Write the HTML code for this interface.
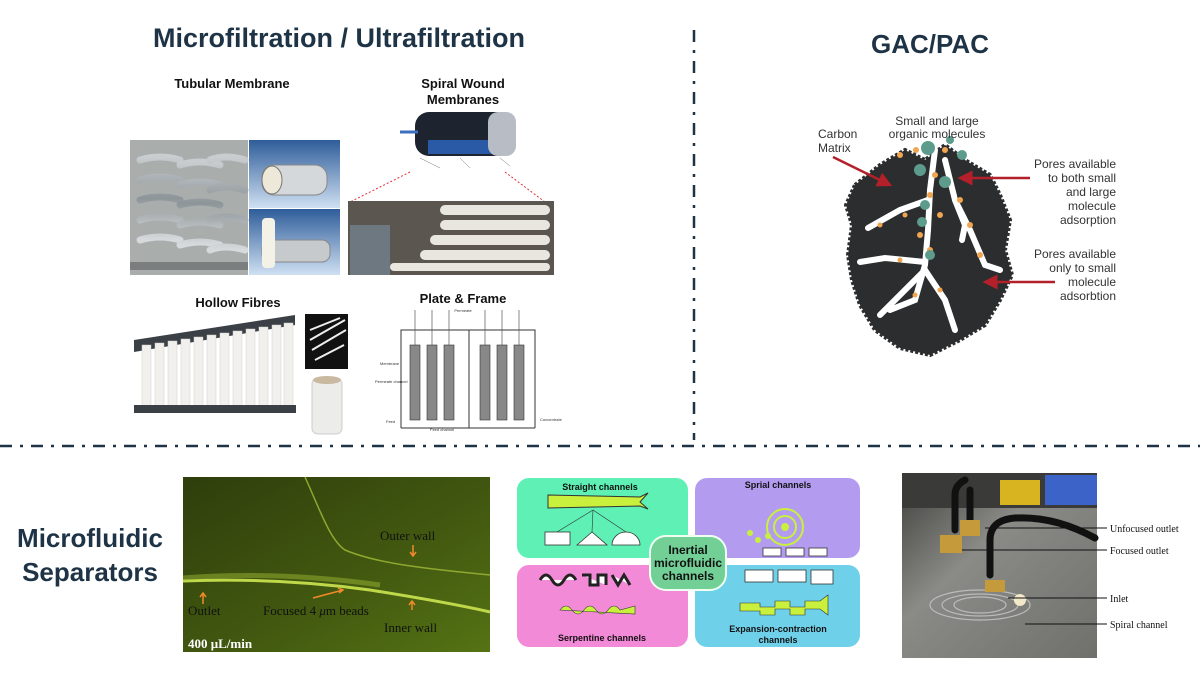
<!DOCTYPE html>
<html><head><meta charset="utf-8"><style>
html,body{margin:0;padding:0;background:#fff;width:1200px;height:675px;overflow:hidden}
svg{display:block}
</style></head><body>
<svg width="1200" height="675" viewBox="0 0 1200 675" xmlns="http://www.w3.org/2000/svg" font-family="Liberation Sans, sans-serif">
<defs>
<linearGradient id="pipe" x1="0" x2="0" y1="0" y2="1"><stop offset="0" stop-color="#c9cdd0"/><stop offset=".5" stop-color="#8e9599"/><stop offset="1" stop-color="#d7dadc"/></linearGradient>
<linearGradient id="blue" x1="0" x2="0" y1="0" y2="1"><stop offset="0" stop-color="#2f5d9a"/><stop offset="1" stop-color="#cfe0f2"/></linearGradient>
<linearGradient id="grn" x1="0" x2="1" y1="0" y2="1"><stop offset="0" stop-color="#2f3e0c"/><stop offset=".6" stop-color="#435a10"/><stop offset="1" stop-color="#557314"/></linearGradient>
<linearGradient id="steel" x1="0" x2="1" y1="0" y2="1"><stop offset="0" stop-color="#3e3f3c"/><stop offset=".4" stop-color="#8a8a86"/><stop offset="1" stop-color="#6f706c"/></linearGradient>
<marker id="ra" markerWidth="6" markerHeight="6" refX="5" refY="3" orient="auto"><path d="M0,0 L6,3 L0,6 z" fill="#b4202a"/></marker>
</defs>

<text x="339" y="47" text-anchor="middle" font-size="27" font-weight="bold" fill="#1e3446">Microfiltration / Ultrafiltration</text>
<text x="930" y="53" text-anchor="middle" font-size="26" font-weight="bold" fill="#1e3446">GAC/PAC</text>

<line x1="694" y1="30" x2="694" y2="440" stroke="#1e3446" stroke-width="2.5" stroke-dasharray="12,8,3,8"/>
<line x1="0" y1="446" x2="1200" y2="446" stroke="#1e3446" stroke-width="2.5" stroke-dasharray="12,8,3,8"/>

<!-- Tubular -->
<text x="232" y="88" text-anchor="middle" font-size="13" font-weight="bold" fill="#111">Tubular Membrane</text>
<rect x="130" y="140" width="118" height="135" fill="#a9adac"/>
<g stroke="url(#pipe)" stroke-width="7" fill="none" stroke-linecap="round">
<path d="M140,160 q20,-6 40,0 M140,180 q20,-6 40,0 M140,200 q20,-6 40,0 M140,220 q20,-6 40,0 M140,240 q20,-6 40,0"/>
<path d="M180,165 q20,-6 40,0 M180,185 q20,-6 40,0 M180,205 q20,-6 40,0 M180,225 q20,-6 40,0 M180,245 q20,-6 40,0"/>
<path d="M210,160 q15,-6 35,0 M210,190 q15,-6 35,0 M210,220 q15,-6 35,0 M210,250 q15,-6 35,0"/>
</g>
<rect x="130" y="262" width="118" height="8" fill="#7a7e7e"/>
<rect x="249" y="140" width="91" height="68" fill="url(#blue)"/>
<rect x="262" y="165" width="65" height="30" rx="12" fill="#d5d8da" stroke="#888"/>
<ellipse cx="272" cy="180" rx="10" ry="14" fill="#eee8d8" stroke="#777"/>
<rect x="249" y="209" width="91" height="66" fill="url(#blue)"/>
<rect x="262" y="240" width="68" height="22" rx="8" fill="#c7cacc" stroke="#888"/>
<rect x="262" y="218" width="13" height="50" rx="4" fill="#f4f1e6"/>

<!-- Spiral wound -->
<text x="463" y="88" text-anchor="middle" font-size="13" font-weight="bold" fill="#111">Spiral Wound</text>
<text x="463" y="104" text-anchor="middle" font-size="13" font-weight="bold" fill="#111">Membranes</text>
<rect x="415" y="112" width="100" height="44" fill="#1d2430" rx="14"/>
<rect x="428" y="140" width="70" height="14" fill="#2a5aa6"/>
<rect x="488" y="112" width="28" height="44" rx="10" fill="#b8bcc4"/>
<line x1="400" y1="132" x2="418" y2="132" stroke="#3b6ec0" stroke-width="3"/>
<g stroke="#777" stroke-width=".5"><line x1="420" y1="158" x2="440" y2="168"/><line x1="460" y1="158" x2="470" y2="168"/><line x1="500" y1="158" x2="510" y2="166"/></g>
<line x1="410" y1="172" x2="350" y2="202" stroke="#e03030" stroke-dasharray="2,2"/>
<line x1="505" y1="172" x2="545" y2="202" stroke="#e03030" stroke-dasharray="2,2"/>
<rect x="348" y="201" width="206" height="74" fill="#5b5650"/>
<g fill="#e8e6df">
<rect x="440" y="205" width="110" height="10" rx="5"/><rect x="440" y="220" width="110" height="10" rx="5"/><rect x="430" y="235" width="120" height="10" rx="5"/><rect x="420" y="250" width="130" height="10" rx="5"/><rect x="390" y="263" width="160" height="8" rx="4"/>
</g>
<rect x="350" y="225" width="40" height="50" fill="#6d7880"/>

<!-- Hollow fibres -->
<text x="238" y="307" text-anchor="middle" font-size="13" font-weight="bold" fill="#111">Hollow Fibres</text>
<path d="M134,340 L295,315 L295,325 L134,352 z" fill="#3b4047"/>
<g fill="#f1f0ec" stroke="#d0d0cc" stroke-width=".5">
<rect x="142" y="345" width="9" height="62"/><rect x="155" y="343" width="9" height="64"/><rect x="168" y="341" width="9" height="66"/><rect x="181" y="339" width="9" height="68"/><rect x="194" y="337" width="9" height="70"/><rect x="207" y="335" width="9" height="72"/><rect x="220" y="333" width="9" height="74"/><rect x="233" y="331" width="9" height="76"/><rect x="246" y="329" width="9" height="78"/><rect x="259" y="327" width="9" height="80"/><rect x="272" y="325" width="9" height="82"/><rect x="284" y="323" width="9" height="84"/>
</g>
<rect x="134" y="405" width="162" height="8" fill="#3b4047"/>
<rect x="305" y="314" width="43" height="55" fill="#111"/>
<path d="M310,340 L345,320 M312,350 L346,330 M315,360 L344,345 M310,330 L340,318" stroke="#eee" stroke-width="2"/>
<rect x="312" y="378" width="30" height="56" rx="6" fill="#ececea" stroke="#ccc"/>
<ellipse cx="327" cy="380" rx="14" ry="4" fill="#c9b9a0"/>

<!-- Plate & Frame -->
<text x="463" y="303" text-anchor="middle" font-size="13" font-weight="bold" fill="#111">Plate &amp; Frame</text>
<g stroke="#333" stroke-width="1" fill="none">
<path d="M401,428 V330 H535 V428"/><path d="M401,428 H535"/><path d="M469,330 V428"/>
</g>
<g fill="#888" stroke="#333" stroke-width=".6">
<rect x="410" y="345" width="10" height="75"/><rect x="427" y="345" width="10" height="75"/><rect x="444" y="345" width="10" height="75"/>
<rect x="480" y="345" width="10" height="75"/><rect x="497" y="345" width="10" height="75"/><rect x="514" y="345" width="10" height="75"/>
</g>
<g stroke="#555" stroke-width=".7">
<line x1="415" y1="310" x2="415" y2="345"/><line x1="432" y1="310" x2="432" y2="345"/><line x1="449" y1="310" x2="449" y2="345"/>
<line x1="485" y1="310" x2="485" y2="345"/><line x1="502" y1="310" x2="502" y2="345"/><line x1="519" y1="310" x2="519" y2="345"/>
</g>
<text x="463" y="312" font-size="4" text-anchor="middle" fill="#333">Permeate</text>
<text x="380" y="365" font-size="4" fill="#333">Membrane</text>
<text x="375" y="383" font-size="4" fill="#333">Permeate channel</text>
<text x="386" y="423" font-size="4" fill="#333">Feed</text>
<text x="540" y="421" font-size="4" fill="#333">Concentrate</text>
<text x="430" y="431" font-size="4" fill="#333">Feed channel</text>

<!-- GAC blob -->
<path d="M855,185 L880,165 L905,150 L925,160 L945,145 L965,160 L990,175 L1000,195 L1010,220 L1005,250 L1012,275 L1000,300 L985,325 L960,340 L930,355 L900,348 L875,330 L860,305 L852,280 L848,255 L852,225 L846,205 z" fill="#2b2d2e" stroke="#2b2d2e" stroke-width="4" stroke-dasharray="3,2"/>
<g stroke="#fff" stroke-width="6" fill="none" stroke-linecap="round">
<path d="M935,150 L930,190 L928,230 L925,265 L915,300 L890,310"/>
<path d="M928,200 L900,210 L868,228"/>
<path d="M925,262 L885,258 L860,262"/>
<path d="M925,270 L945,300 L955,330"/>
<path d="M945,160 L955,200 L970,230 L985,265 L1000,270"/>
<path d="M955,200 L965,225 L962,240"/>
<path d="M925,270 L905,290 L880,315"/>
</g>
<g fill="#f0a550">
<circle cx="900" cy="155" r="3"/><circle cx="916" cy="150" r="3"/><circle cx="935" cy="175" r="3"/><circle cx="930" cy="195" r="3"/><circle cx="940" cy="215" r="3"/><circle cx="920" cy="235" r="3"/><circle cx="930" cy="250" r="3"/><circle cx="905" cy="215" r="2.5"/><circle cx="880" cy="225" r="2.5"/><circle cx="960" cy="200" r="3"/><circle cx="970" cy="225" r="3"/><circle cx="980" cy="255" r="3"/><circle cx="900" cy="260" r="2.5"/><circle cx="940" cy="290" r="2.5"/><circle cx="915" cy="295" r="2.5"/><circle cx="945" cy="150" r="3"/>
</g>
<g fill="#5d9c8c">
<circle cx="928" cy="148" r="7"/><circle cx="920" cy="170" r="6"/><circle cx="945" cy="182" r="6"/><circle cx="962" cy="155" r="5"/><circle cx="950" cy="140" r="4"/><circle cx="925" cy="205" r="5"/><circle cx="922" cy="222" r="5"/><circle cx="930" cy="255" r="5"/>
</g>
<text x="937" y="125" text-anchor="middle" font-size="12" fill="#333">Small and large</text>
<text x="937" y="138" text-anchor="middle" font-size="12" fill="#333">organic molecules</text>
<text x="818" y="138" font-size="12" fill="#333">Carbon</text>
<text x="818" y="152" font-size="12" fill="#333">Matrix</text>
<line x1="833" y1="157" x2="890" y2="185" stroke="#b4202a" stroke-width="2.5" marker-end="url(#ra)"/>
<line x1="1030" y1="178" x2="960" y2="178" stroke="#b4202a" stroke-width="2.5" marker-end="url(#ra)"/>
<line x1="1055" y1="282" x2="985" y2="282" stroke="#b4202a" stroke-width="2.5" marker-end="url(#ra)"/>
<g font-size="12" fill="#333" text-anchor="end">
<text x="1116" y="168">Pores available</text><text x="1116" y="182">to both small</text><text x="1116" y="196">and large</text><text x="1116" y="210">molecule</text><text x="1116" y="224">adsorption</text>
<text x="1116" y="258">Pores available</text><text x="1116" y="272">only to small</text><text x="1116" y="286">molecule</text><text x="1116" y="300">adsorbtion</text>
</g>

<!-- Microfluidic -->
<text x="90" y="547" text-anchor="middle" font-size="26" font-weight="bold" fill="#1e3446">Microfluidic</text>
<text x="90" y="581" text-anchor="middle" font-size="26" font-weight="bold" fill="#1e3446">Separators</text>

<rect x="183" y="477" width="307" height="175" fill="url(#grn)"/>
<path d="M183,581 C260,578 320,583 370,590 C420,598 460,605 490,612" stroke="#bfd84a" stroke-width="3" fill="none"/>
<path d="M183,578 C260,572 330,578 380,585" stroke="#9ab532" stroke-width="5" fill="none" opacity=".5"/>
<path d="M305,477 C320,510 330,540 345,550 C380,565 440,570 490,575" stroke="#8fa830" stroke-width="1.5" fill="none"/>
<g font-family="Liberation Serif, serif" font-size="13" fill="#111">
<text x="380" y="540">Outer wall</text>
<text x="188" y="615">Outlet</text>
<text x="263" y="615">Focused 4 <tspan font-style="italic">μ</tspan>m beads</text>
<text x="384" y="632">Inner wall</text>
<text x="188" y="648" fill="#fff" font-weight="bold">400 μL/min</text>
</g>
<g stroke="#f08a2a" stroke-width="1.5" fill="none">
<path d="M413,545 v10 M410,552 l3,4 3,-4"/><path d="M203,604 v-10 M200,597 l3,-4 3,4"/><path d="M313,598 L343,590 M338,588 l5,2 -4,3"/><path d="M412,610 v-8 M409,605 l3,-4 3,4"/>
</g>

<!-- inertial channels -->
<rect x="517" y="478" width="171" height="80" rx="12" fill="#5ef0b4"/>
<rect x="695" y="478" width="165" height="80" rx="12" fill="#b39cf0"/>
<rect x="517" y="565" width="171" height="82" rx="12" fill="#f28ad8"/>
<rect x="695" y="565" width="165" height="82" rx="12" fill="#6fd0ea"/>
<rect x="650" y="536" width="76" height="54" rx="16" fill="#72cf96" stroke="#eefff2" stroke-width="2"/>
<g font-size="12" font-weight="bold" fill="#111" text-anchor="middle">
<text x="688" y="554">Inertial</text><text x="688" y="567">microfluidic</text><text x="688" y="580">channels</text>
</g>
<g font-size="9" font-weight="bold" fill="#111" text-anchor="middle">
<text x="600" y="490">Straight channels</text><text x="778" y="488">Sprial channels</text>
<text x="602" y="641">Serpentine channels</text><text x="778" y="632">Expansion-contraction</text><text x="778" y="643">channels</text>
</g>
<path d="M548,495 L640,497 L648,493 L640,502 L648,509 L640,506 L548,508 z" fill="#c8f03c" stroke="#333"/>
<g fill="#fff" stroke="#333" stroke-width=".8">
<rect x="545" y="532" width="25" height="13"/><path d="M577,545 L592,532 L607,545 z"/><path d="M612,545 A14,13 0 0 1 640,545 z"/>
<rect x="763" y="548" width="18" height="8"/><rect x="786" y="548" width="18" height="8"/><rect x="809" y="548" width="18" height="8"/>
<path d="M540,580 q6,-10 12,0 q6,10 12,0 q6,-10 12,0 M582,575 h8 v10 h8 v-10 h8 v10 M612,575 l6,10 6,-10 6,10" stroke="#222" stroke-width="3"/>
<rect x="745" y="570" width="28" height="12"/><rect x="778" y="570" width="28" height="12"/><rect x="811" y="570" width="22" height="14"/>
</g>
<g fill="none" stroke="#333" stroke-width=".6">
<line x1="593" y1="510" x2="557" y2="532"/><line x1="593" y1="510" x2="592" y2="532"/><line x1="593" y1="510" x2="626" y2="532"/>
</g>
<circle cx="785" cy="527" r="18" fill="none" stroke="#c8f03c" stroke-width="2"/><circle cx="785" cy="527" r="11" fill="none" stroke="#c8f03c" stroke-width="2"/><circle cx="785" cy="527" r="4" fill="#c8f03c"/>
<circle cx="750" cy="533" r="3" fill="#c8f03c"/><circle cx="758" cy="540" r="3" fill="#c8f03c"/><circle cx="768" cy="536" r="3" fill="#c8f03c"/>
<path d="M560,610 q6,-8 12,0 q6,8 12,0 q6,-8 12,0 q6,8 12,0 q6,-8 12,0 l15,-4 v8 z" fill="#c8f03c" stroke="#333" stroke-width=".6"/>
<path d="M740,603 h20 v4 h15 v-6 h15 v6 h15 v-6 h15 l8,-6 v20 l-8,-6 h-15 v6 h-15 v-6 h-15 v6 h-15 v-4 h-20 z" fill="#c8f03c" stroke="#333" stroke-width=".6"/>

<!-- right photo -->
<rect x="902" y="473" width="195" height="185" fill="url(#steel)"/>
<rect x="902" y="473" width="195" height="35" fill="#3a3a38"/>
<rect x="1000" y="480" width="40" height="25" fill="#d8b420"/>
<rect x="1045" y="475" width="52" height="30" fill="#3b63c8"/>
<g fill="none" stroke="#bbb" stroke-width="1.2">
<ellipse cx="980" cy="605" rx="50" ry="15"/><ellipse cx="980" cy="605" rx="38" ry="11"/><ellipse cx="980" cy="605" rx="26" ry="8"/>
</g>
<g stroke="#111" stroke-width="7" fill="none" stroke-linecap="round">
<path d="M955,530 V495 q0,-10 10,-15"/><path d="M970,520 V490"/><path d="M990,575 V540 q0,-20 25,-22 q40,-2 80,20"/>
</g>
<g fill="#c49a3a"><rect x="940" y="535" width="22" height="18"/><rect x="960" y="520" width="20" height="16"/><rect x="985" y="580" width="20" height="12"/></g>
<circle cx="1020" cy="600" r="6" fill="#fff3d0" opacity=".9"/>
<g stroke="#111" stroke-width="1">
<line x1="985" y1="528" x2="1107" y2="528"/><line x1="962" y1="550" x2="1107" y2="550"/><line x1="1008" y1="598" x2="1107" y2="598"/><line x1="1025" y1="624" x2="1107" y2="624"/>
</g>
<g font-family="Liberation Serif, serif" font-size="10" fill="#111">
<text x="1110" y="532">Unfocused outlet</text><text x="1110" y="554">Focused outlet</text><text x="1110" y="602">Inlet</text><text x="1110" y="628">Spiral channel</text>
</g>
</svg>
</body></html>
